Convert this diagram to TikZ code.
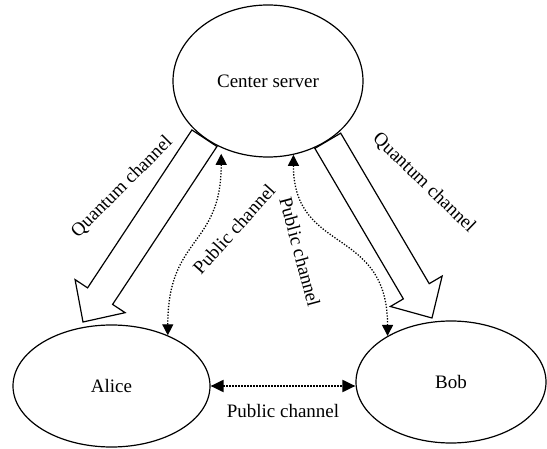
\documentclass[tikz,border=0pt]{standalone}
\usepackage{fontspec}
\setmainfont{Liberation Serif}
\usetikzlibrary{shapes.geometric, arrows.meta, calc}
\tikzstyle{party} = [ellipse, draw, line width=1.2pt, inner sep=0pt, minimum height=122pt]
\tikzstyle{quantum} = [line width=1.2pt, line join=miter]
\tikzstyle{public} = [line width=1.3pt, dash pattern=on 1.3pt off 1.6pt, {Triangle[length=11pt,width=11pt]}-{Triangle[length=11pt,width=11pt]}]
\tikzstyle{chan} = [inner sep=0pt]

\begin{document}
\begin{tikzpicture}[x=1pt, y=-1pt, font=\fontsize{19}{22}\selectfont]
    \useasboundingbox (0,0) rectangle (547,449);
    \node (server) [party, minimum width=190pt, minimum height=152pt] at (268,81) {Center server};
    \node (alice) [party, minimum width=197pt] at (111.5,386) {Alice};
    \node (bob) [party, minimum width=190pt] at (451,382) {Bob};

    % quantum channels (hollow arrows)
    \coordinate (qtipA) at (83,322);
    \coordinate (qtipB) at (432,318);
    \foreach \from/\to in {server.222/qtipA, server.-45/qtipB} {
      \coordinate (qh) at ($(\to)!31pt!(\from)$);
      \draw[quantum] ($(\from)!15pt!90:(\to)$) -- ($(qh)!15pt!90:(\to)$) -- ($(qh)!30pt!90:(\to)$)
        -- (\to) -- ($(qh)!30pt!-90:(\to)$) -- ($(qh)!15pt!-90:(\to)$) -- ($(\from)!15pt!-90:(\to)$) -- cycle;
    }
    \node (qlabelA) [chan, rotate=45] at (122,187) {Quantum channel};
    \node (qlabelB) [chan, rotate=-44] at (424,183) {Quantum channel};

    % public channels
    \draw[public, shorten <=6pt] (server.235) .. controls +(0,100) and +(0,-100) .. (alice.42);
    \draw[public] (server.-71) .. controls +(0,100) and +(0,-110) .. (bob.144);
    \draw[public, line width=2pt, dash pattern=on 2pt off 1pt, {Triangle[length=13pt,width=12pt]}-{Triangle[length=13pt,width=12pt]}] (alice.east) -- (alice.east -| bob.west);
    \node (plabelA) [chan, rotate=48] at (234,229) {Public channel};
    \node (plabelB) [chan, rotate=-75] at (300,252) {Public channel};
    \node (plabelC) [chan] at (283,411) {Public channel};
\end{tikzpicture}
\end{document}
